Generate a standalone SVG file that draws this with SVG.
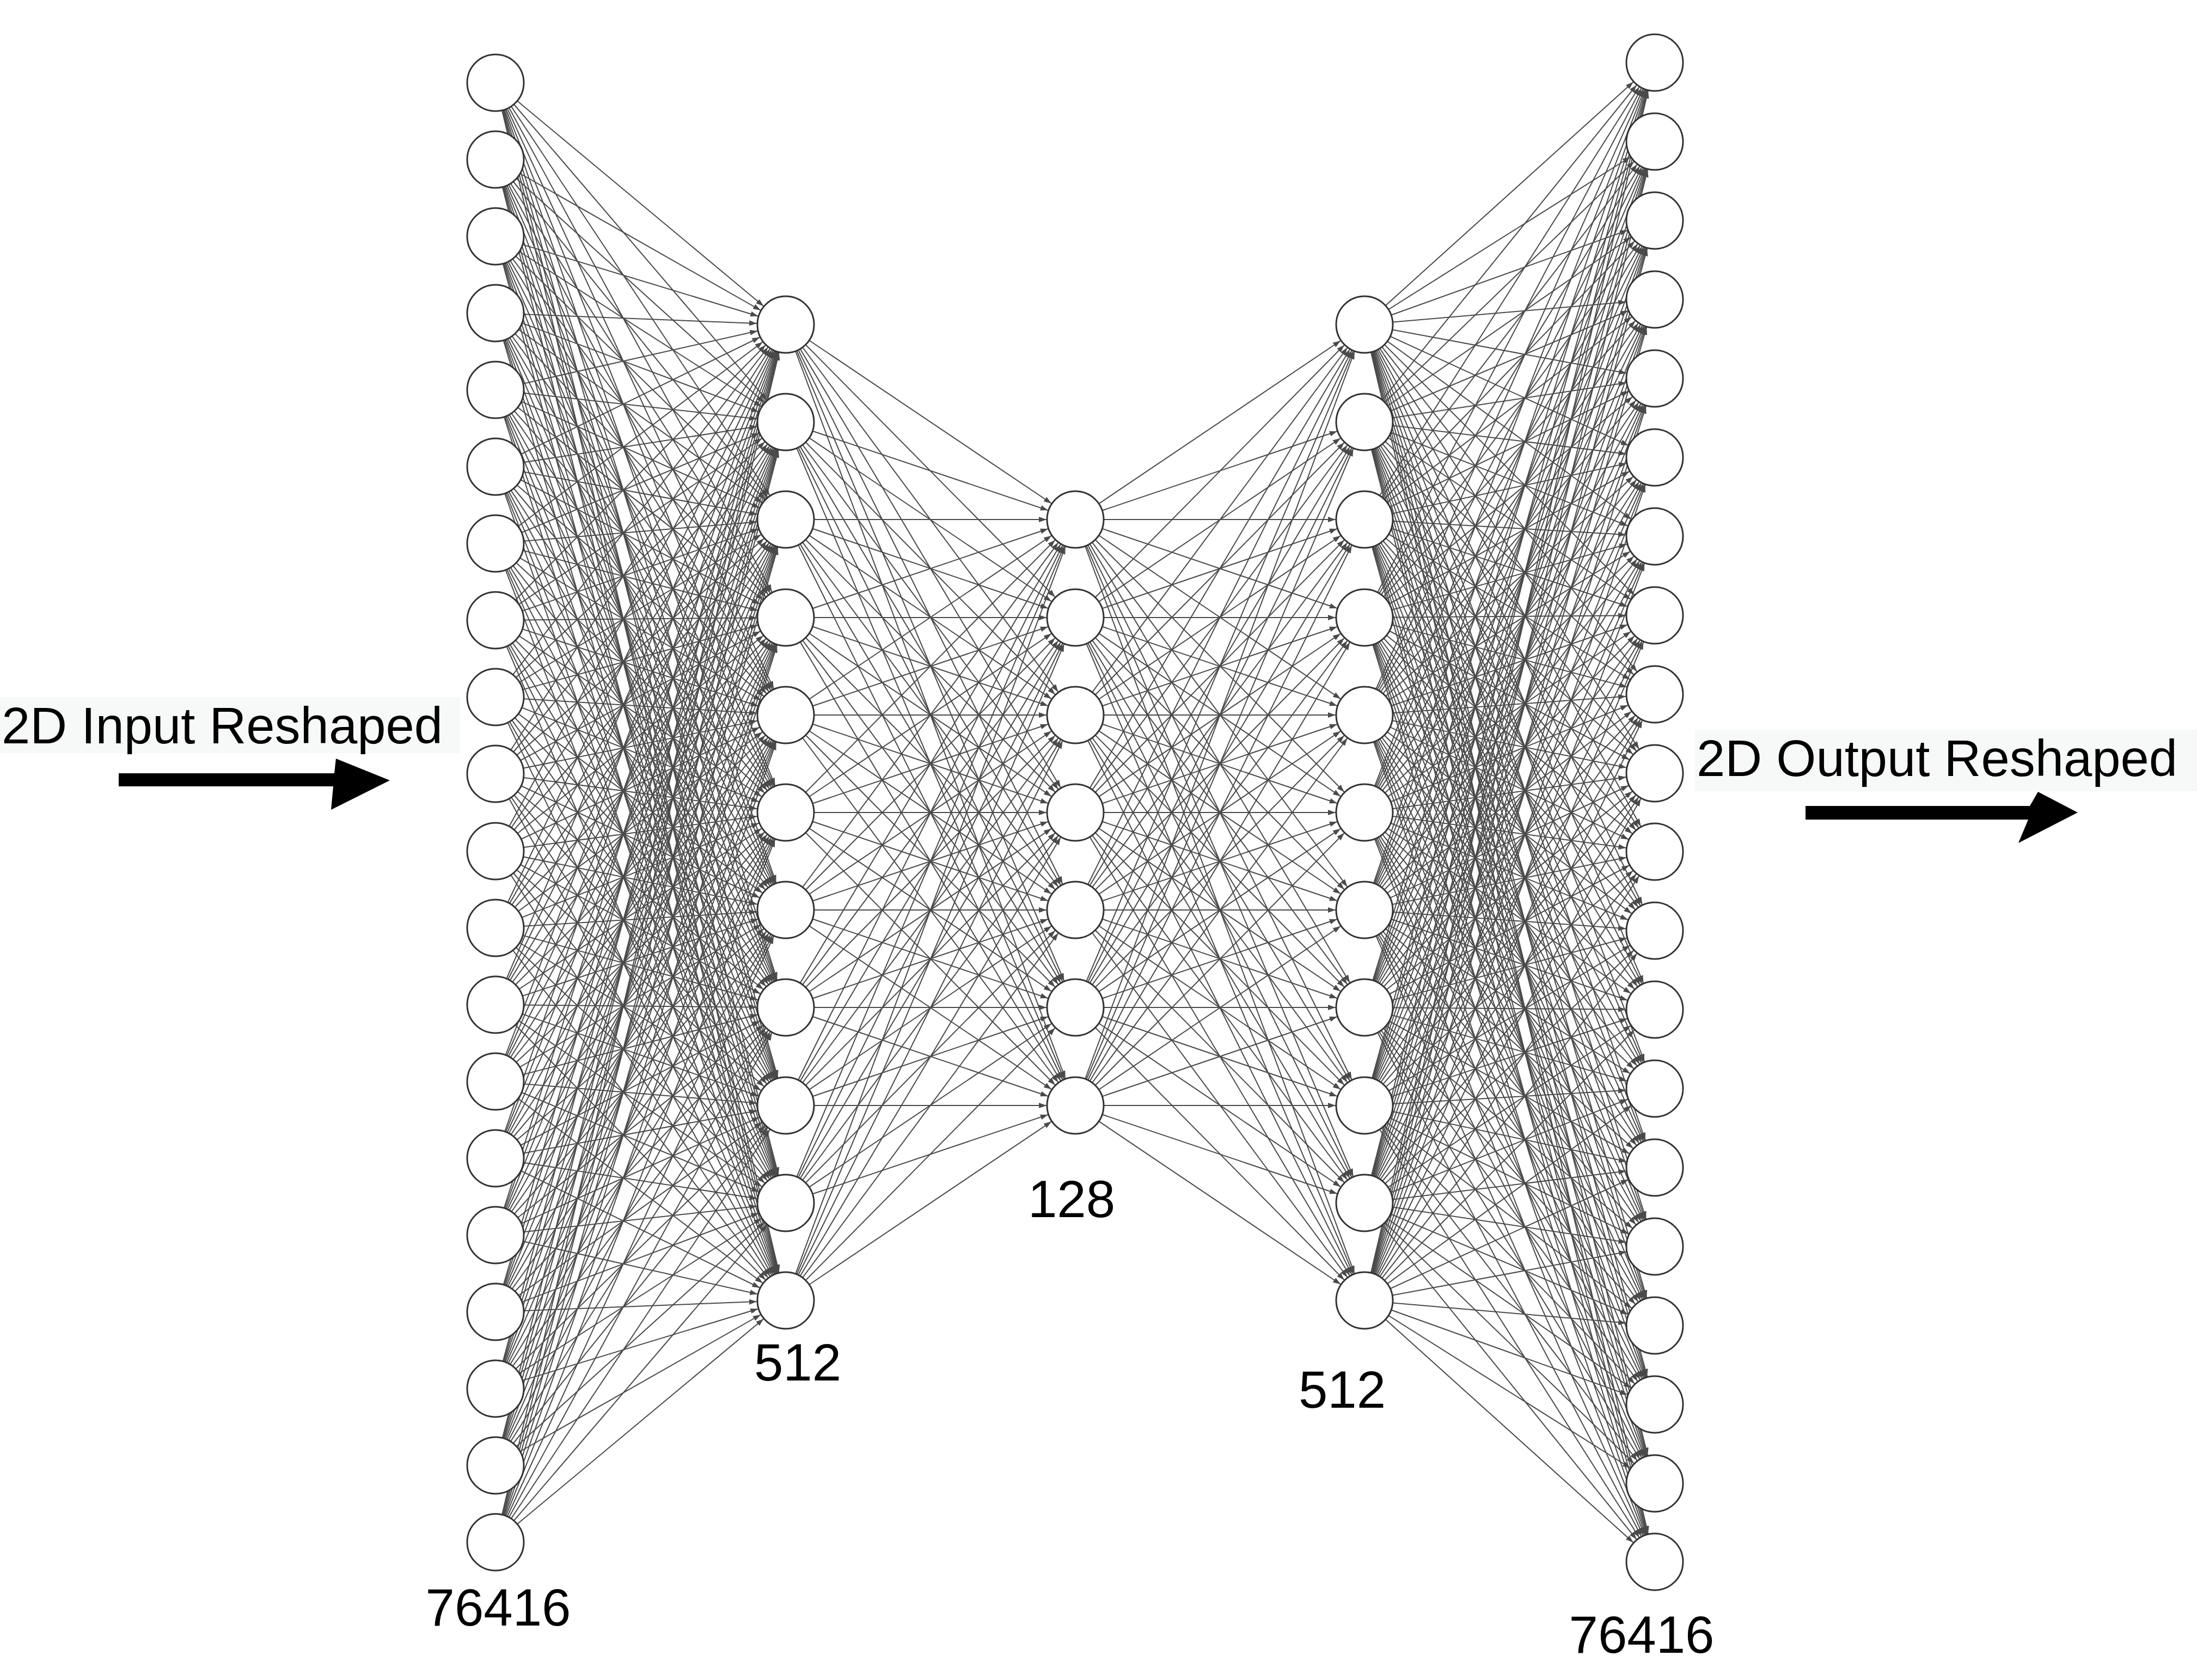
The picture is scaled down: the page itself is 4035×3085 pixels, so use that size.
<svg xmlns="http://www.w3.org/2000/svg" width="4035" height="3085" viewBox="0 0 4035 3085">
<style>
.c path{stroke:#4a4a4a;stroke-width:2;fill:none;marker-end:url(#a)}
.n circle{fill:#fff;stroke:#333;stroke-width:3}
.t{font-family:"Liberation Sans",Arial,sans-serif;font-size:96px;fill:#000;text-anchor:middle}
.lb{font-family:"Liberation Sans",Arial,sans-serif;font-size:94px;fill:#000}
</style>
<defs>
<marker id="a" viewBox="0 0 67 10" refX="67" refY="5" markerWidth="67" markerHeight="10" markerUnits="userSpaceOnUse" orient="auto"><path d="M0 0L14 5L0 10z" fill="#4a4a4a"/></marker>
</defs>
<rect width="4035" height="3085" fill="#fff"/>
<g id="connectors" class="c">
<g id="l1-l2">
<path d="M910 152 1443 596"/><path d="M910 152 1443 775"/><path d="M910 152 1443 954"/><path d="M910 152 1443 1134"/><path d="M910 152 1443 1313"/><path d="M910 152 1443 1492"/><path d="M910 152 1443 1671"/><path d="M910 152 1443 1850"/><path d="M910 152 1443 2030"/><path d="M910 152 1443 2209"/><path d="M910 152 1443 2388"/>
<path d="M910 293 1443 596"/><path d="M910 293 1443 775"/><path d="M910 293 1443 954"/><path d="M910 293 1443 1134"/><path d="M910 293 1443 1313"/><path d="M910 293 1443 1492"/><path d="M910 293 1443 1671"/><path d="M910 293 1443 1850"/><path d="M910 293 1443 2030"/><path d="M910 293 1443 2209"/><path d="M910 293 1443 2388"/>
<path d="M910 434 1443 596"/><path d="M910 434 1443 775"/><path d="M910 434 1443 954"/><path d="M910 434 1443 1134"/><path d="M910 434 1443 1313"/><path d="M910 434 1443 1492"/><path d="M910 434 1443 1671"/><path d="M910 434 1443 1850"/><path d="M910 434 1443 2030"/><path d="M910 434 1443 2209"/><path d="M910 434 1443 2388"/>
<path d="M910 575 1443 596"/><path d="M910 575 1443 775"/><path d="M910 575 1443 954"/><path d="M910 575 1443 1134"/><path d="M910 575 1443 1313"/><path d="M910 575 1443 1492"/><path d="M910 575 1443 1671"/><path d="M910 575 1443 1850"/><path d="M910 575 1443 2030"/><path d="M910 575 1443 2209"/><path d="M910 575 1443 2388"/>
<path d="M910 716 1443 596"/><path d="M910 716 1443 775"/><path d="M910 716 1443 954"/><path d="M910 716 1443 1134"/><path d="M910 716 1443 1313"/><path d="M910 716 1443 1492"/><path d="M910 716 1443 1671"/><path d="M910 716 1443 1850"/><path d="M910 716 1443 2030"/><path d="M910 716 1443 2209"/><path d="M910 716 1443 2388"/>
<path d="M910 857 1443 596"/><path d="M910 857 1443 775"/><path d="M910 857 1443 954"/><path d="M910 857 1443 1134"/><path d="M910 857 1443 1313"/><path d="M910 857 1443 1492"/><path d="M910 857 1443 1671"/><path d="M910 857 1443 1850"/><path d="M910 857 1443 2030"/><path d="M910 857 1443 2209"/><path d="M910 857 1443 2388"/>
<path d="M910 998 1443 596"/><path d="M910 998 1443 775"/><path d="M910 998 1443 954"/><path d="M910 998 1443 1134"/><path d="M910 998 1443 1313"/><path d="M910 998 1443 1492"/><path d="M910 998 1443 1671"/><path d="M910 998 1443 1850"/><path d="M910 998 1443 2030"/><path d="M910 998 1443 2209"/><path d="M910 998 1443 2388"/>
<path d="M910 1139 1443 596"/><path d="M910 1139 1443 775"/><path d="M910 1139 1443 954"/><path d="M910 1139 1443 1134"/><path d="M910 1139 1443 1313"/><path d="M910 1139 1443 1492"/><path d="M910 1139 1443 1671"/><path d="M910 1139 1443 1850"/><path d="M910 1139 1443 2030"/><path d="M910 1139 1443 2209"/><path d="M910 1139 1443 2388"/>
<path d="M910 1280 1443 596"/><path d="M910 1280 1443 775"/><path d="M910 1280 1443 954"/><path d="M910 1280 1443 1134"/><path d="M910 1280 1443 1313"/><path d="M910 1280 1443 1492"/><path d="M910 1280 1443 1671"/><path d="M910 1280 1443 1850"/><path d="M910 1280 1443 2030"/><path d="M910 1280 1443 2209"/><path d="M910 1280 1443 2388"/>
<path d="M910 1421 1443 596"/><path d="M910 1421 1443 775"/><path d="M910 1421 1443 954"/><path d="M910 1421 1443 1134"/><path d="M910 1421 1443 1313"/><path d="M910 1421 1443 1492"/><path d="M910 1421 1443 1671"/><path d="M910 1421 1443 1850"/><path d="M910 1421 1443 2030"/><path d="M910 1421 1443 2209"/><path d="M910 1421 1443 2388"/>
<path d="M910 1563 1443 596"/><path d="M910 1563 1443 775"/><path d="M910 1563 1443 954"/><path d="M910 1563 1443 1134"/><path d="M910 1563 1443 1313"/><path d="M910 1563 1443 1492"/><path d="M910 1563 1443 1671"/><path d="M910 1563 1443 1850"/><path d="M910 1563 1443 2030"/><path d="M910 1563 1443 2209"/><path d="M910 1563 1443 2388"/>
<path d="M910 1704 1443 596"/><path d="M910 1704 1443 775"/><path d="M910 1704 1443 954"/><path d="M910 1704 1443 1134"/><path d="M910 1704 1443 1313"/><path d="M910 1704 1443 1492"/><path d="M910 1704 1443 1671"/><path d="M910 1704 1443 1850"/><path d="M910 1704 1443 2030"/><path d="M910 1704 1443 2209"/><path d="M910 1704 1443 2388"/>
<path d="M910 1845 1443 596"/><path d="M910 1845 1443 775"/><path d="M910 1845 1443 954"/><path d="M910 1845 1443 1134"/><path d="M910 1845 1443 1313"/><path d="M910 1845 1443 1492"/><path d="M910 1845 1443 1671"/><path d="M910 1845 1443 1850"/><path d="M910 1845 1443 2030"/><path d="M910 1845 1443 2209"/><path d="M910 1845 1443 2388"/>
<path d="M910 1986 1443 596"/><path d="M910 1986 1443 775"/><path d="M910 1986 1443 954"/><path d="M910 1986 1443 1134"/><path d="M910 1986 1443 1313"/><path d="M910 1986 1443 1492"/><path d="M910 1986 1443 1671"/><path d="M910 1986 1443 1850"/><path d="M910 1986 1443 2030"/><path d="M910 1986 1443 2209"/><path d="M910 1986 1443 2388"/>
<path d="M910 2127 1443 596"/><path d="M910 2127 1443 775"/><path d="M910 2127 1443 954"/><path d="M910 2127 1443 1134"/><path d="M910 2127 1443 1313"/><path d="M910 2127 1443 1492"/><path d="M910 2127 1443 1671"/><path d="M910 2127 1443 1850"/><path d="M910 2127 1443 2030"/><path d="M910 2127 1443 2209"/><path d="M910 2127 1443 2388"/>
<path d="M910 2268 1443 596"/><path d="M910 2268 1443 775"/><path d="M910 2268 1443 954"/><path d="M910 2268 1443 1134"/><path d="M910 2268 1443 1313"/><path d="M910 2268 1443 1492"/><path d="M910 2268 1443 1671"/><path d="M910 2268 1443 1850"/><path d="M910 2268 1443 2030"/><path d="M910 2268 1443 2209"/><path d="M910 2268 1443 2388"/>
<path d="M910 2409 1443 596"/><path d="M910 2409 1443 775"/><path d="M910 2409 1443 954"/><path d="M910 2409 1443 1134"/><path d="M910 2409 1443 1313"/><path d="M910 2409 1443 1492"/><path d="M910 2409 1443 1671"/><path d="M910 2409 1443 1850"/><path d="M910 2409 1443 2030"/><path d="M910 2409 1443 2209"/><path d="M910 2409 1443 2388"/>
<path d="M910 2550 1443 596"/><path d="M910 2550 1443 775"/><path d="M910 2550 1443 954"/><path d="M910 2550 1443 1134"/><path d="M910 2550 1443 1313"/><path d="M910 2550 1443 1492"/><path d="M910 2550 1443 1671"/><path d="M910 2550 1443 1850"/><path d="M910 2550 1443 2030"/><path d="M910 2550 1443 2209"/><path d="M910 2550 1443 2388"/>
<path d="M910 2691 1443 596"/><path d="M910 2691 1443 775"/><path d="M910 2691 1443 954"/><path d="M910 2691 1443 1134"/><path d="M910 2691 1443 1313"/><path d="M910 2691 1443 1492"/><path d="M910 2691 1443 1671"/><path d="M910 2691 1443 1850"/><path d="M910 2691 1443 2030"/><path d="M910 2691 1443 2209"/><path d="M910 2691 1443 2388"/>
<path d="M910 2832 1443 596"/><path d="M910 2832 1443 775"/><path d="M910 2832 1443 954"/><path d="M910 2832 1443 1134"/><path d="M910 2832 1443 1313"/><path d="M910 2832 1443 1492"/><path d="M910 2832 1443 1671"/><path d="M910 2832 1443 1850"/><path d="M910 2832 1443 2030"/><path d="M910 2832 1443 2209"/><path d="M910 2832 1443 2388"/>
</g>
<g id="l2-l3">
<path d="M1443 596 1975 954"/><path d="M1443 596 1975 1134"/><path d="M1443 596 1975 1313"/><path d="M1443 596 1975 1492"/><path d="M1443 596 1975 1671"/><path d="M1443 596 1975 1850"/><path d="M1443 596 1975 2030"/>
<path d="M1443 775 1975 954"/><path d="M1443 775 1975 1134"/><path d="M1443 775 1975 1313"/><path d="M1443 775 1975 1492"/><path d="M1443 775 1975 1671"/><path d="M1443 775 1975 1850"/><path d="M1443 775 1975 2030"/>
<path d="M1443 954 1975 954"/><path d="M1443 954 1975 1134"/><path d="M1443 954 1975 1313"/><path d="M1443 954 1975 1492"/><path d="M1443 954 1975 1671"/><path d="M1443 954 1975 1850"/><path d="M1443 954 1975 2030"/>
<path d="M1443 1134 1975 954"/><path d="M1443 1134 1975 1134"/><path d="M1443 1134 1975 1313"/><path d="M1443 1134 1975 1492"/><path d="M1443 1134 1975 1671"/><path d="M1443 1134 1975 1850"/><path d="M1443 1134 1975 2030"/>
<path d="M1443 1313 1975 954"/><path d="M1443 1313 1975 1134"/><path d="M1443 1313 1975 1313"/><path d="M1443 1313 1975 1492"/><path d="M1443 1313 1975 1671"/><path d="M1443 1313 1975 1850"/><path d="M1443 1313 1975 2030"/>
<path d="M1443 1492 1975 954"/><path d="M1443 1492 1975 1134"/><path d="M1443 1492 1975 1313"/><path d="M1443 1492 1975 1492"/><path d="M1443 1492 1975 1671"/><path d="M1443 1492 1975 1850"/><path d="M1443 1492 1975 2030"/>
<path d="M1443 1671 1975 954"/><path d="M1443 1671 1975 1134"/><path d="M1443 1671 1975 1313"/><path d="M1443 1671 1975 1492"/><path d="M1443 1671 1975 1671"/><path d="M1443 1671 1975 1850"/><path d="M1443 1671 1975 2030"/>
<path d="M1443 1850 1975 954"/><path d="M1443 1850 1975 1134"/><path d="M1443 1850 1975 1313"/><path d="M1443 1850 1975 1492"/><path d="M1443 1850 1975 1671"/><path d="M1443 1850 1975 1850"/><path d="M1443 1850 1975 2030"/>
<path d="M1443 2030 1975 954"/><path d="M1443 2030 1975 1134"/><path d="M1443 2030 1975 1313"/><path d="M1443 2030 1975 1492"/><path d="M1443 2030 1975 1671"/><path d="M1443 2030 1975 1850"/><path d="M1443 2030 1975 2030"/>
<path d="M1443 2209 1975 954"/><path d="M1443 2209 1975 1134"/><path d="M1443 2209 1975 1313"/><path d="M1443 2209 1975 1492"/><path d="M1443 2209 1975 1671"/><path d="M1443 2209 1975 1850"/><path d="M1443 2209 1975 2030"/>
<path d="M1443 2388 1975 954"/><path d="M1443 2388 1975 1134"/><path d="M1443 2388 1975 1313"/><path d="M1443 2388 1975 1492"/><path d="M1443 2388 1975 1671"/><path d="M1443 2388 1975 1850"/><path d="M1443 2388 1975 2030"/>
</g>
<g id="l3-l4">
<path d="M1975 954 2506 596"/><path d="M1975 954 2506 775"/><path d="M1975 954 2506 954"/><path d="M1975 954 2506 1134"/><path d="M1975 954 2506 1313"/><path d="M1975 954 2506 1492"/><path d="M1975 954 2506 1671"/><path d="M1975 954 2506 1850"/><path d="M1975 954 2506 2030"/><path d="M1975 954 2506 2209"/><path d="M1975 954 2506 2388"/>
<path d="M1975 1134 2506 596"/><path d="M1975 1134 2506 775"/><path d="M1975 1134 2506 954"/><path d="M1975 1134 2506 1134"/><path d="M1975 1134 2506 1313"/><path d="M1975 1134 2506 1492"/><path d="M1975 1134 2506 1671"/><path d="M1975 1134 2506 1850"/><path d="M1975 1134 2506 2030"/><path d="M1975 1134 2506 2209"/><path d="M1975 1134 2506 2388"/>
<path d="M1975 1313 2506 596"/><path d="M1975 1313 2506 775"/><path d="M1975 1313 2506 954"/><path d="M1975 1313 2506 1134"/><path d="M1975 1313 2506 1313"/><path d="M1975 1313 2506 1492"/><path d="M1975 1313 2506 1671"/><path d="M1975 1313 2506 1850"/><path d="M1975 1313 2506 2030"/><path d="M1975 1313 2506 2209"/><path d="M1975 1313 2506 2388"/>
<path d="M1975 1492 2506 596"/><path d="M1975 1492 2506 775"/><path d="M1975 1492 2506 954"/><path d="M1975 1492 2506 1134"/><path d="M1975 1492 2506 1313"/><path d="M1975 1492 2506 1492"/><path d="M1975 1492 2506 1671"/><path d="M1975 1492 2506 1850"/><path d="M1975 1492 2506 2030"/><path d="M1975 1492 2506 2209"/><path d="M1975 1492 2506 2388"/>
<path d="M1975 1671 2506 596"/><path d="M1975 1671 2506 775"/><path d="M1975 1671 2506 954"/><path d="M1975 1671 2506 1134"/><path d="M1975 1671 2506 1313"/><path d="M1975 1671 2506 1492"/><path d="M1975 1671 2506 1671"/><path d="M1975 1671 2506 1850"/><path d="M1975 1671 2506 2030"/><path d="M1975 1671 2506 2209"/><path d="M1975 1671 2506 2388"/>
<path d="M1975 1850 2506 596"/><path d="M1975 1850 2506 775"/><path d="M1975 1850 2506 954"/><path d="M1975 1850 2506 1134"/><path d="M1975 1850 2506 1313"/><path d="M1975 1850 2506 1492"/><path d="M1975 1850 2506 1671"/><path d="M1975 1850 2506 1850"/><path d="M1975 1850 2506 2030"/><path d="M1975 1850 2506 2209"/><path d="M1975 1850 2506 2388"/>
<path d="M1975 2030 2506 596"/><path d="M1975 2030 2506 775"/><path d="M1975 2030 2506 954"/><path d="M1975 2030 2506 1134"/><path d="M1975 2030 2506 1313"/><path d="M1975 2030 2506 1492"/><path d="M1975 2030 2506 1671"/><path d="M1975 2030 2506 1850"/><path d="M1975 2030 2506 2030"/><path d="M1975 2030 2506 2209"/><path d="M1975 2030 2506 2388"/>
</g>
<g id="l4-l5">
<path d="M2506 596 3039 115"/><path d="M2506 596 3039 260"/><path d="M2506 596 3039 405"/><path d="M2506 596 3039 550"/><path d="M2506 596 3039 695"/><path d="M2506 596 3039 840"/><path d="M2506 596 3039 985"/><path d="M2506 596 3039 1130"/><path d="M2506 596 3039 1275"/><path d="M2506 596 3039 1420"/><path d="M2506 596 3039 1564"/><path d="M2506 596 3039 1709"/><path d="M2506 596 3039 1854"/><path d="M2506 596 3039 1999"/><path d="M2506 596 3039 2144"/><path d="M2506 596 3039 2289"/><path d="M2506 596 3039 2434"/><path d="M2506 596 3039 2579"/><path d="M2506 596 3039 2724"/><path d="M2506 596 3039 2868"/>
<path d="M2506 775 3039 115"/><path d="M2506 775 3039 260"/><path d="M2506 775 3039 405"/><path d="M2506 775 3039 550"/><path d="M2506 775 3039 695"/><path d="M2506 775 3039 840"/><path d="M2506 775 3039 985"/><path d="M2506 775 3039 1130"/><path d="M2506 775 3039 1275"/><path d="M2506 775 3039 1420"/><path d="M2506 775 3039 1564"/><path d="M2506 775 3039 1709"/><path d="M2506 775 3039 1854"/><path d="M2506 775 3039 1999"/><path d="M2506 775 3039 2144"/><path d="M2506 775 3039 2289"/><path d="M2506 775 3039 2434"/><path d="M2506 775 3039 2579"/><path d="M2506 775 3039 2724"/><path d="M2506 775 3039 2868"/>
<path d="M2506 954 3039 115"/><path d="M2506 954 3039 260"/><path d="M2506 954 3039 405"/><path d="M2506 954 3039 550"/><path d="M2506 954 3039 695"/><path d="M2506 954 3039 840"/><path d="M2506 954 3039 985"/><path d="M2506 954 3039 1130"/><path d="M2506 954 3039 1275"/><path d="M2506 954 3039 1420"/><path d="M2506 954 3039 1564"/><path d="M2506 954 3039 1709"/><path d="M2506 954 3039 1854"/><path d="M2506 954 3039 1999"/><path d="M2506 954 3039 2144"/><path d="M2506 954 3039 2289"/><path d="M2506 954 3039 2434"/><path d="M2506 954 3039 2579"/><path d="M2506 954 3039 2724"/><path d="M2506 954 3039 2868"/>
<path d="M2506 1134 3039 115"/><path d="M2506 1134 3039 260"/><path d="M2506 1134 3039 405"/><path d="M2506 1134 3039 550"/><path d="M2506 1134 3039 695"/><path d="M2506 1134 3039 840"/><path d="M2506 1134 3039 985"/><path d="M2506 1134 3039 1130"/><path d="M2506 1134 3039 1275"/><path d="M2506 1134 3039 1420"/><path d="M2506 1134 3039 1564"/><path d="M2506 1134 3039 1709"/><path d="M2506 1134 3039 1854"/><path d="M2506 1134 3039 1999"/><path d="M2506 1134 3039 2144"/><path d="M2506 1134 3039 2289"/><path d="M2506 1134 3039 2434"/><path d="M2506 1134 3039 2579"/><path d="M2506 1134 3039 2724"/><path d="M2506 1134 3039 2868"/>
<path d="M2506 1313 3039 115"/><path d="M2506 1313 3039 260"/><path d="M2506 1313 3039 405"/><path d="M2506 1313 3039 550"/><path d="M2506 1313 3039 695"/><path d="M2506 1313 3039 840"/><path d="M2506 1313 3039 985"/><path d="M2506 1313 3039 1130"/><path d="M2506 1313 3039 1275"/><path d="M2506 1313 3039 1420"/><path d="M2506 1313 3039 1564"/><path d="M2506 1313 3039 1709"/><path d="M2506 1313 3039 1854"/><path d="M2506 1313 3039 1999"/><path d="M2506 1313 3039 2144"/><path d="M2506 1313 3039 2289"/><path d="M2506 1313 3039 2434"/><path d="M2506 1313 3039 2579"/><path d="M2506 1313 3039 2724"/><path d="M2506 1313 3039 2868"/>
<path d="M2506 1492 3039 115"/><path d="M2506 1492 3039 260"/><path d="M2506 1492 3039 405"/><path d="M2506 1492 3039 550"/><path d="M2506 1492 3039 695"/><path d="M2506 1492 3039 840"/><path d="M2506 1492 3039 985"/><path d="M2506 1492 3039 1130"/><path d="M2506 1492 3039 1275"/><path d="M2506 1492 3039 1420"/><path d="M2506 1492 3039 1564"/><path d="M2506 1492 3039 1709"/><path d="M2506 1492 3039 1854"/><path d="M2506 1492 3039 1999"/><path d="M2506 1492 3039 2144"/><path d="M2506 1492 3039 2289"/><path d="M2506 1492 3039 2434"/><path d="M2506 1492 3039 2579"/><path d="M2506 1492 3039 2724"/><path d="M2506 1492 3039 2868"/>
<path d="M2506 1671 3039 115"/><path d="M2506 1671 3039 260"/><path d="M2506 1671 3039 405"/><path d="M2506 1671 3039 550"/><path d="M2506 1671 3039 695"/><path d="M2506 1671 3039 840"/><path d="M2506 1671 3039 985"/><path d="M2506 1671 3039 1130"/><path d="M2506 1671 3039 1275"/><path d="M2506 1671 3039 1420"/><path d="M2506 1671 3039 1564"/><path d="M2506 1671 3039 1709"/><path d="M2506 1671 3039 1854"/><path d="M2506 1671 3039 1999"/><path d="M2506 1671 3039 2144"/><path d="M2506 1671 3039 2289"/><path d="M2506 1671 3039 2434"/><path d="M2506 1671 3039 2579"/><path d="M2506 1671 3039 2724"/><path d="M2506 1671 3039 2868"/>
<path d="M2506 1850 3039 115"/><path d="M2506 1850 3039 260"/><path d="M2506 1850 3039 405"/><path d="M2506 1850 3039 550"/><path d="M2506 1850 3039 695"/><path d="M2506 1850 3039 840"/><path d="M2506 1850 3039 985"/><path d="M2506 1850 3039 1130"/><path d="M2506 1850 3039 1275"/><path d="M2506 1850 3039 1420"/><path d="M2506 1850 3039 1564"/><path d="M2506 1850 3039 1709"/><path d="M2506 1850 3039 1854"/><path d="M2506 1850 3039 1999"/><path d="M2506 1850 3039 2144"/><path d="M2506 1850 3039 2289"/><path d="M2506 1850 3039 2434"/><path d="M2506 1850 3039 2579"/><path d="M2506 1850 3039 2724"/><path d="M2506 1850 3039 2868"/>
<path d="M2506 2030 3039 115"/><path d="M2506 2030 3039 260"/><path d="M2506 2030 3039 405"/><path d="M2506 2030 3039 550"/><path d="M2506 2030 3039 695"/><path d="M2506 2030 3039 840"/><path d="M2506 2030 3039 985"/><path d="M2506 2030 3039 1130"/><path d="M2506 2030 3039 1275"/><path d="M2506 2030 3039 1420"/><path d="M2506 2030 3039 1564"/><path d="M2506 2030 3039 1709"/><path d="M2506 2030 3039 1854"/><path d="M2506 2030 3039 1999"/><path d="M2506 2030 3039 2144"/><path d="M2506 2030 3039 2289"/><path d="M2506 2030 3039 2434"/><path d="M2506 2030 3039 2579"/><path d="M2506 2030 3039 2724"/><path d="M2506 2030 3039 2868"/>
<path d="M2506 2209 3039 115"/><path d="M2506 2209 3039 260"/><path d="M2506 2209 3039 405"/><path d="M2506 2209 3039 550"/><path d="M2506 2209 3039 695"/><path d="M2506 2209 3039 840"/><path d="M2506 2209 3039 985"/><path d="M2506 2209 3039 1130"/><path d="M2506 2209 3039 1275"/><path d="M2506 2209 3039 1420"/><path d="M2506 2209 3039 1564"/><path d="M2506 2209 3039 1709"/><path d="M2506 2209 3039 1854"/><path d="M2506 2209 3039 1999"/><path d="M2506 2209 3039 2144"/><path d="M2506 2209 3039 2289"/><path d="M2506 2209 3039 2434"/><path d="M2506 2209 3039 2579"/><path d="M2506 2209 3039 2724"/><path d="M2506 2209 3039 2868"/>
<path d="M2506 2388 3039 115"/><path d="M2506 2388 3039 260"/><path d="M2506 2388 3039 405"/><path d="M2506 2388 3039 550"/><path d="M2506 2388 3039 695"/><path d="M2506 2388 3039 840"/><path d="M2506 2388 3039 985"/><path d="M2506 2388 3039 1130"/><path d="M2506 2388 3039 1275"/><path d="M2506 2388 3039 1420"/><path d="M2506 2388 3039 1564"/><path d="M2506 2388 3039 1709"/><path d="M2506 2388 3039 1854"/><path d="M2506 2388 3039 1999"/><path d="M2506 2388 3039 2144"/><path d="M2506 2388 3039 2289"/><path d="M2506 2388 3039 2434"/><path d="M2506 2388 3039 2579"/><path d="M2506 2388 3039 2724"/><path d="M2506 2388 3039 2868"/>
</g>
</g>
<g id="nodes" class="n">
<g id="in0"><circle cx="910" cy="152" r="52"/></g>
<g id="in1"><circle cx="910" cy="293" r="52"/></g>
<g id="in2"><circle cx="910" cy="434" r="52"/></g>
<g id="in3"><circle cx="910" cy="575" r="52"/></g>
<g id="in4"><circle cx="910" cy="716" r="52"/></g>
<g id="in5"><circle cx="910" cy="857" r="52"/></g>
<g id="in6"><circle cx="910" cy="998" r="52"/></g>
<g id="in7"><circle cx="910" cy="1139" r="52"/></g>
<g id="in8"><circle cx="910" cy="1280" r="52"/></g>
<g id="in9"><circle cx="910" cy="1421" r="52"/></g>
<g id="in10"><circle cx="910" cy="1563" r="52"/></g>
<g id="in11"><circle cx="910" cy="1704" r="52"/></g>
<g id="in12"><circle cx="910" cy="1845" r="52"/></g>
<g id="in13"><circle cx="910" cy="1986" r="52"/></g>
<g id="in14"><circle cx="910" cy="2127" r="52"/></g>
<g id="in15"><circle cx="910" cy="2268" r="52"/></g>
<g id="in16"><circle cx="910" cy="2409" r="52"/></g>
<g id="in17"><circle cx="910" cy="2550" r="52"/></g>
<g id="in18"><circle cx="910" cy="2691" r="52"/></g>
<g id="in19"><circle cx="910" cy="2832" r="52"/></g>
<g id="enc0"><circle cx="1443" cy="596" r="52"/></g>
<g id="enc1"><circle cx="1443" cy="775" r="52"/></g>
<g id="enc2"><circle cx="1443" cy="954" r="52"/></g>
<g id="enc3"><circle cx="1443" cy="1134" r="52"/></g>
<g id="enc4"><circle cx="1443" cy="1313" r="52"/></g>
<g id="enc5"><circle cx="1443" cy="1492" r="52"/></g>
<g id="enc6"><circle cx="1443" cy="1671" r="52"/></g>
<g id="enc7"><circle cx="1443" cy="1850" r="52"/></g>
<g id="enc8"><circle cx="1443" cy="2030" r="52"/></g>
<g id="enc9"><circle cx="1443" cy="2209" r="52"/></g>
<g id="enc10"><circle cx="1443" cy="2388" r="52"/></g>
<g id="lat0"><circle cx="1975" cy="954" r="52"/></g>
<g id="lat1"><circle cx="1975" cy="1134" r="52"/></g>
<g id="lat2"><circle cx="1975" cy="1313" r="52"/></g>
<g id="lat3"><circle cx="1975" cy="1492" r="52"/></g>
<g id="lat4"><circle cx="1975" cy="1671" r="52"/></g>
<g id="lat5"><circle cx="1975" cy="1850" r="52"/></g>
<g id="lat6"><circle cx="1975" cy="2030" r="52"/></g>
<g id="dec0"><circle cx="2506" cy="596" r="52"/></g>
<g id="dec1"><circle cx="2506" cy="775" r="52"/></g>
<g id="dec2"><circle cx="2506" cy="954" r="52"/></g>
<g id="dec3"><circle cx="2506" cy="1134" r="52"/></g>
<g id="dec4"><circle cx="2506" cy="1313" r="52"/></g>
<g id="dec5"><circle cx="2506" cy="1492" r="52"/></g>
<g id="dec6"><circle cx="2506" cy="1671" r="52"/></g>
<g id="dec7"><circle cx="2506" cy="1850" r="52"/></g>
<g id="dec8"><circle cx="2506" cy="2030" r="52"/></g>
<g id="dec9"><circle cx="2506" cy="2209" r="52"/></g>
<g id="dec10"><circle cx="2506" cy="2388" r="52"/></g>
<g id="out0"><circle cx="3039" cy="115" r="52"/></g>
<g id="out1"><circle cx="3039" cy="260" r="52"/></g>
<g id="out2"><circle cx="3039" cy="405" r="52"/></g>
<g id="out3"><circle cx="3039" cy="550" r="52"/></g>
<g id="out4"><circle cx="3039" cy="695" r="52"/></g>
<g id="out5"><circle cx="3039" cy="840" r="52"/></g>
<g id="out6"><circle cx="3039" cy="985" r="52"/></g>
<g id="out7"><circle cx="3039" cy="1130" r="52"/></g>
<g id="out8"><circle cx="3039" cy="1275" r="52"/></g>
<g id="out9"><circle cx="3039" cy="1420" r="52"/></g>
<g id="out10"><circle cx="3039" cy="1564" r="52"/></g>
<g id="out11"><circle cx="3039" cy="1709" r="52"/></g>
<g id="out12"><circle cx="3039" cy="1854" r="52"/></g>
<g id="out13"><circle cx="3039" cy="1999" r="52"/></g>
<g id="out14"><circle cx="3039" cy="2144" r="52"/></g>
<g id="out15"><circle cx="3039" cy="2289" r="52"/></g>
<g id="out16"><circle cx="3039" cy="2434" r="52"/></g>
<g id="out17"><circle cx="3039" cy="2579" r="52"/></g>
<g id="out18"><circle cx="3039" cy="2724" r="52"/></g>
<g id="out19"><circle cx="3039" cy="2868" r="52"/></g>
</g>
<g id="labels">
<text class="t" x="915" y="2985">76416</text>
<text class="t" x="1465" y="2535">512</text>
<text class="t" x="1968" y="2235">128</text>
<text class="t" x="2465" y="2585">512</text>
<text class="t" x="3015" y="3035">76416</text>
</g>
<g id="input-label">
<rect x="0" y="1280" width="845" height="103" fill="#f7f8f8"/>
<text class="lb" x="3" y="1365">2D Input Reshaped</text>
<path d="M218 1420L614 1420L617 1393L716 1433L608 1487L612 1444L218 1444Z" fill="#000"/>
</g>
<g id="output-label">
<rect x="3113" y="1340" width="922" height="113" fill="#f7f8f8"/>
<text class="lb" x="3116" y="1425">2D Output Reshaped</text>
<path d="M3316 1480L3728 1480L3743 1454L3816 1492L3707 1548L3725 1505L3316 1505Z" fill="#000"/>
</g>
</svg>
